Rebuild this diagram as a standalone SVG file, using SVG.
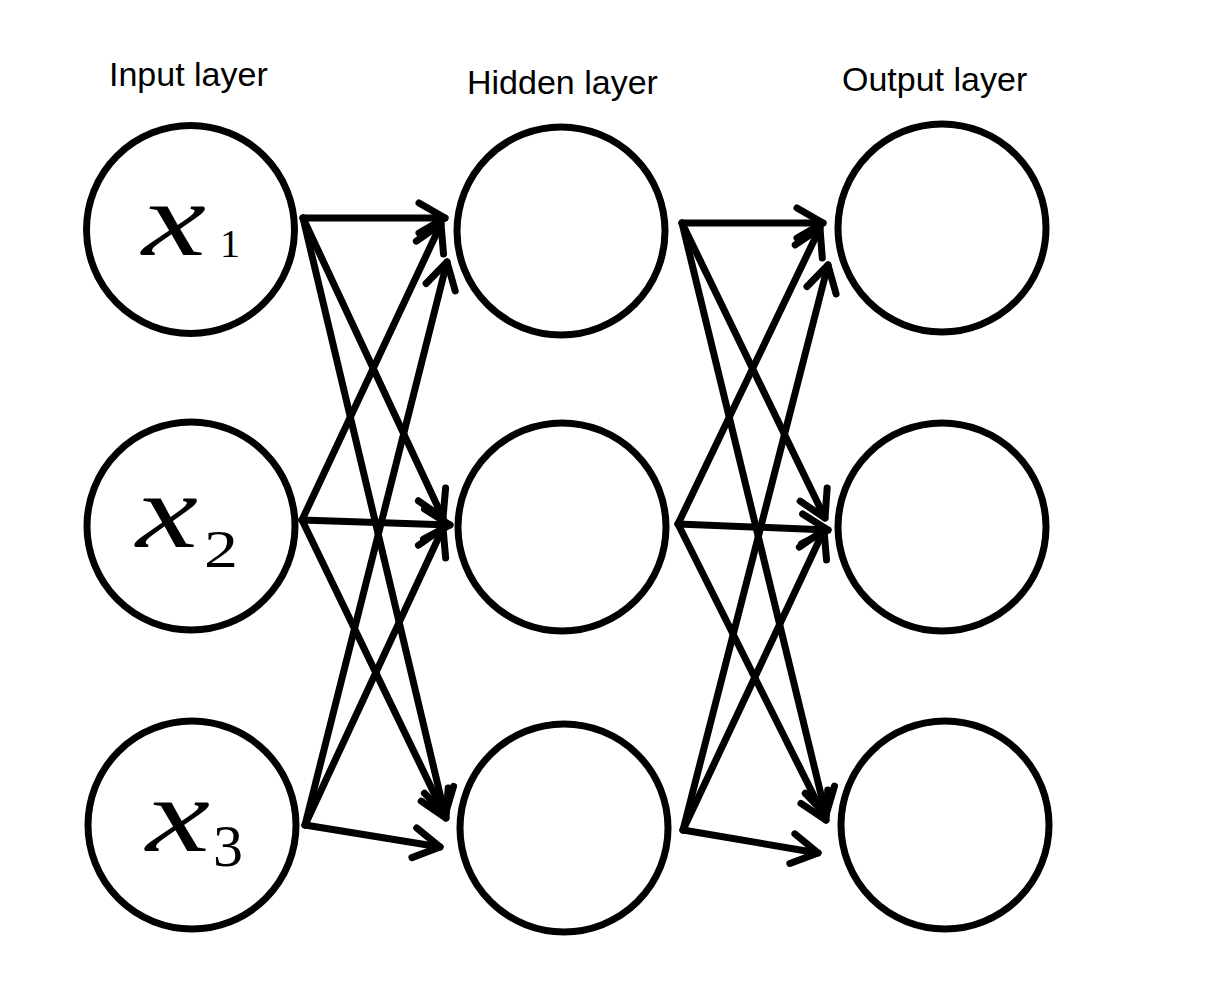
<svg xmlns="http://www.w3.org/2000/svg" width="1222" height="1000" viewBox="0 0 1222 1000">
<style>
  .node { fill: #fff; stroke: #000; stroke-width: 7; }
  .lbl { font-family: "Liberation Sans", Arial, sans-serif; font-size: 34px; fill: #000; }
  .var { font-family: "Liberation Serif", "Times New Roman", serif; font-style: italic; font-size: 106px; fill: #000; }
  .sub { font-family: "Liberation Serif", "Times New Roman", serif; fill: #000; }
  .edge { fill: none; stroke: #000; stroke-width: 7; stroke-linecap: round; stroke-linejoin: round; }
</style>
<defs>
  <marker id="arr" markerUnits="userSpaceOnUse" markerWidth="40" markerHeight="40" viewBox="-30 -20 40 40" refX="0" refY="0" orient="auto" overflow="visible">
    <path d="M -26 -15 L 0 0 L -26 15" fill="none" stroke="#000" stroke-width="7" stroke-linecap="round" stroke-linejoin="round"/>
  </marker>
</defs>
<rect width="1222" height="1000" fill="#fff"/>

<g id="labels">
  <text class="lbl" x="109" y="86">Input layer</text>
  <text class="lbl" x="467" y="94">Hidden layer</text>
  <text class="lbl" x="842" y="91">Output layer</text>
</g>

<g id="connectors">
  <line class="edge" x1="303" y1="218" x2="445" y2="218" marker-end="url(#arr)"/>
  <line class="edge" x1="303" y1="218" x2="443" y2="518" marker-end="url(#arr)"/>
  <line class="edge" x1="303" y1="218" x2="445" y2="815" marker-end="url(#arr)"/>
  <line class="edge" x1="302" y1="520" x2="441" y2="224" marker-end="url(#arr)"/>
  <line class="edge" x1="302" y1="520" x2="450" y2="525" marker-end="url(#arr)"/>
  <line class="edge" x1="302" y1="520" x2="446" y2="818" marker-end="url(#arr)"/>
  <line class="edge" x1="305" y1="825" x2="447" y2="262" marker-end="url(#arr)"/>
  <line class="edge" x1="305" y1="825" x2="443" y2="528" marker-end="url(#arr)"/>
  <line class="edge" x1="305" y1="825" x2="440" y2="847" marker-end="url(#arr)"/>

  <line class="edge" x1="682" y1="223" x2="823" y2="223" marker-end="url(#arr)"/>
  <line class="edge" x1="682" y1="223" x2="825" y2="518" marker-end="url(#arr)"/>
  <line class="edge" x1="682" y1="223" x2="826" y2="815" marker-end="url(#arr)"/>
  <line class="edge" x1="678" y1="524" x2="820" y2="228" marker-end="url(#arr)"/>
  <line class="edge" x1="678" y1="524" x2="828" y2="530" marker-end="url(#arr)"/>
  <line class="edge" x1="678" y1="524" x2="826" y2="820" marker-end="url(#arr)"/>
  <line class="edge" x1="683" y1="830" x2="828" y2="265" marker-end="url(#arr)"/>
  <line class="edge" x1="683" y1="830" x2="824" y2="530" marker-end="url(#arr)"/>
  <line class="edge" x1="683" y1="830" x2="818" y2="853" marker-end="url(#arr)"/>
</g>

<g id="input1">
  <circle class="node" cx="190.5" cy="229.5" r="104"/>
  <text class="var" x="142" y="255" textLength="64" lengthAdjust="spacingAndGlyphs">x</text>
  <text class="sub" x="220" y="257" font-size="40">1</text>
</g>
<g id="input2">
  <circle class="node" cx="191" cy="526" r="104"/>
  <text class="var" x="136" y="547" textLength="62" lengthAdjust="spacingAndGlyphs">x</text>
  <text class="sub" x="204" y="567" font-size="52" textLength="34" lengthAdjust="spacingAndGlyphs">2</text>
</g>
<g id="input3">
  <circle class="node" cx="192" cy="825" r="104"/>
  <text class="var" x="146" y="851" textLength="64" lengthAdjust="spacingAndGlyphs">x</text>
  <text class="sub" x="213" y="866" font-size="60">3</text>
</g>

<g id="hidden1"><circle class="node" cx="561" cy="231" r="104"/></g>
<g id="hidden2"><circle class="node" cx="562" cy="527" r="104"/></g>
<g id="hidden3"><circle class="node" cx="564" cy="828" r="104"/></g>

<g id="output1"><circle class="node" cx="942" cy="228" r="104"/></g>
<g id="output2"><circle class="node" cx="942" cy="527" r="104"/></g>
<g id="output3"><circle class="node" cx="945" cy="825" r="104"/></g>
</svg>
